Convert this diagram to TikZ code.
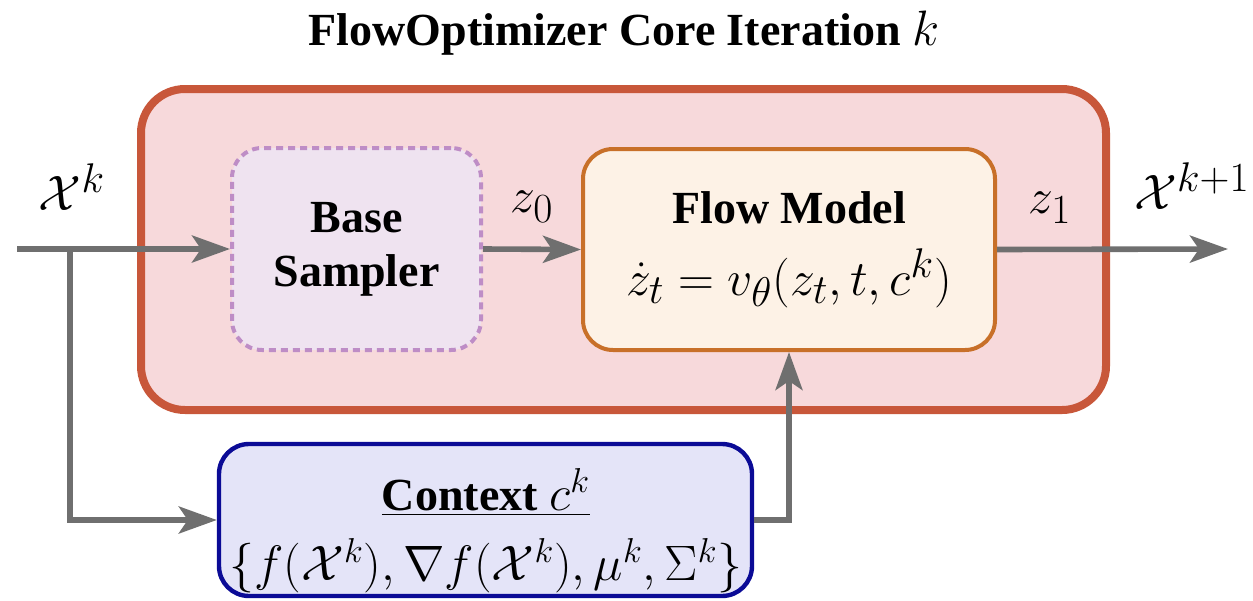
\documentclass[tikz,border=0pt]{standalone}
\usepackage[no-math]{fontspec}
\setmainfont{Liberation Serif}
\usetikzlibrary{arrows.meta,positioning}

\definecolor{outerfill}{HTML}{F7D9DB}
\definecolor{outerdraw}{HTML}{C8573A}
\definecolor{basefill}{HTML}{EFE3F0}
\definecolor{basedraw}{HTML}{BE8DC6}
\definecolor{flowfill}{HTML}{FDF2E6}
\definecolor{flowdraw}{HTML}{C87029}
\definecolor{ctxfill}{HTML}{E4E4F8}
\definecolor{ctxdraw}{HTML}{0B0B96}
\definecolor{wire}{HTML}{6F6F6F}

\newcommand{\txtfont}{\fontsize{23}{27}\selectfont}
\newcommand{\flowmath}{\fontsize{30}{35}\selectfont}
\newcommand{\ctxmath}{\fontsize{26}{31}\selectfont}
\newcommand{\sigfont}{\fontsize{30}{36}\selectfont}

\tikzset{
  stage/.style={rectangle, rounded corners=15pt, align=center, inner sep=0pt},
  outerbox/.style={rectangle, rounded corners=22pt, draw=outerdraw, fill=outerfill,
    line width=4pt, minimum width=482.5pt, minimum height=160.5pt},
  samplerbox/.style={stage, draw=basedraw, fill=basefill, line width=2pt,
    dash pattern=on 3.5pt off 2.5pt, minimum width=124.5pt, minimum height=101pt},
  flowbox/.style={stage, draw=flowdraw, fill=flowfill, line width=2pt,
    minimum width=206pt, minimum height=100.5pt},
  ctxbox/.style={stage, draw=ctxdraw, fill=ctxfill, line width=2.2pt,
    minimum width=266.5pt, minimum height=76pt},
  conn/.style={draw=wire, line width=2.8pt,
    -{Stealth[length=19pt, width=13.5pt, inset=4.5pt]}},
  lbl/.style={inner sep=0pt, font=\sigfont}
}

\begin{document}
\begin{tikzpicture}[x=0.5pt, y=-0.5pt]
  \useasboundingbox (0,0) rectangle (1253,600);

  % title
  \node[inner sep=0pt, font=\txtfont] (title) at (624,33)
    {\textbf{FlowOptimizer Core Iteration} {\fontsize{27}{32}\selectfont$k$}};

  % enclosing iteration block
  \node[outerbox] (core) at (623.5,249.5) {};

  % stages
  \node[samplerbox, font=\fontsize{23}{27}\selectfont] (base) at (356.5,249)
    {\textbf{Base}\\\textbf{Sampler}};
  \node[flowbox, font=\fontsize{23}{36}\selectfont] (flow) at (789,249.5)
    {\textbf{Flow Model}\\{\flowmath$\dot z_t = v_\theta(z_t, t, c^k)$}};

  % context box and its contents
  \node[ctxbox] (ctx) at (485.5,520) {};
  \node[inner sep=0pt, align=center, font=\fontsize{23}{35}\selectfont] (ctxtext) at (486,531)
    {\underline{\textbf{Context} {\fontsize{26}{31}\selectfont$c^k$}}\\
     {\ctxmath$\{f(\mathcal{X}^k), \nabla f(\mathcal{X}^k), \mu^k, \Sigma^k\}$}};

  % wiring
  \coordinate (in) at (17,249);
  \coordinate (split) at (70,249);
  \coordinate (out) at (1228,249);

  \draw[conn] (in) -- (base.west);
  \draw[conn] (split) |- (ctx.west);
  \draw[conn] (ctx.east) -| (flow.south);
  \draw[conn] (base.east) -- (flow.west);
  \draw[conn] (flow.east) -- (out);

  % signal labels
  \node[lbl] (xk) at (72,187) {$\mathcal{X}^k$};
  \node[lbl] (z0) at (532,207) {$z_0$};
  \node[lbl] (z1) at (1050,208) {$z_1$};
  \node[lbl] (xk1) at (1192,186) {$\mathcal{X}^{k+1}$};
\end{tikzpicture}
\end{document}
